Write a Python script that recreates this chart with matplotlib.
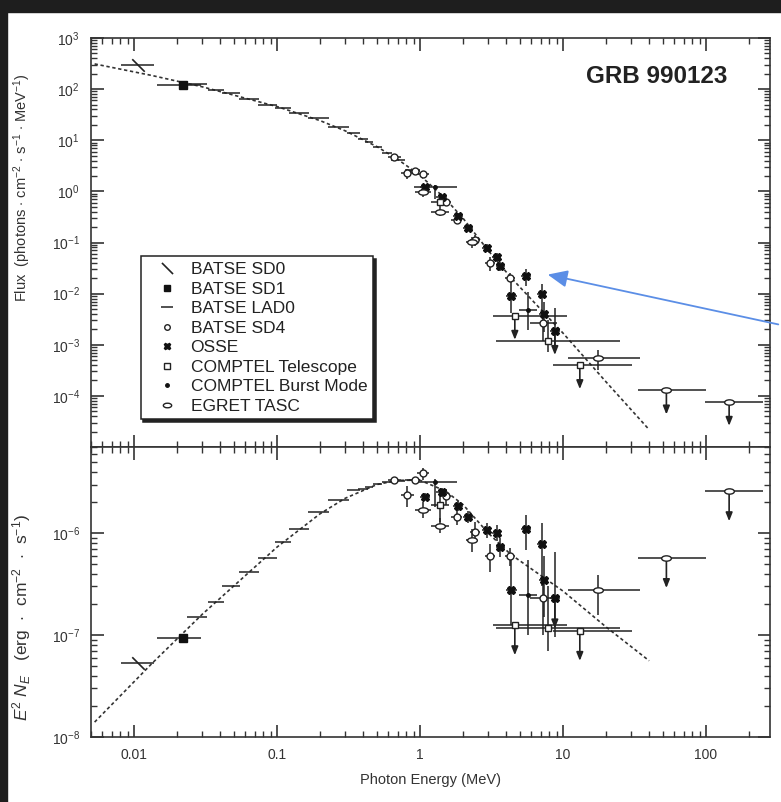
import matplotlib
matplotlib.use("Agg")
import matplotlib.pyplot as plt
import numpy as np
from matplotlib.path import Path
from matplotlib.transforms import offset_copy
from matplotlib.lines import Line2D
from matplotlib.patches import Rectangle, FancyArrowPatch
from matplotlib.ticker import LogLocator, NullFormatter, FuncFormatter

plt.rcParams.update({
    "font.family": ["Liberation Sans", "DejaVu Sans"],
    "font.size": 10,
    "mathtext.fontset": "custom",
    "mathtext.rm": "Liberation Sans",
    "mathtext.it": "Liberation Sans:italic",
    "axes.linewidth": 1.2,
    "axes.edgecolor": "#333333",
})

MEV_ERG = 1.602e-6   # MeV -> erg, flux panel = E^2 N_E / (E^2 * MEV_ERG)

# ---- dashed Band-model curve (E, E^2 N_E)
MODEL_E = [0.0053, 0.0134, 0.03, 0.1, 0.2, 0.3, 0.5, 0.7, 1.0, 1.5, 2.0, 3.0, 4.3, 10, 20, 40]
MODEL_NUFNU = [1.4e-8, 5.3e-8, 1.6e-7, 7.3e-7, 1.55e-6, 2.2e-6, 3.0e-6, 3.3e-6, 3.3e-6,
               2.6e-6, 1.9e-6, 1.0e-6, 6.2e-7, 2.7e-7, 1.2e-7, 5.6e-8]

# ---- data: energy (MeV), bin edges, E^2 N_E (erg cm^-2 s^-1), error range
SD0_E, SD0_ELO, SD0_EHI = [0.0106], [0.0081], [0.0139]
SD0_V, SD0_VLO, SD0_VHI = [5.3e-8], [5.3e-8], [5.3e-8]

SD1_E, SD1_ELO, SD1_EHI = [0.0219], [0.0145], [0.0294]
SD1_V, SD1_VLO, SD1_VHI = [9.4e-8], [9.4e-8], [9.4e-8]

LAD0_ELO = [0.0233, 0.0328, 0.0410, 0.0545, 0.0730, 0.0960, 0.121, 0.164, 0.226, 0.308,
            0.370, 0.415, 0.470, 0.540, 0.625, 0.79]
LAD0_EHI = [0.0324, 0.0424, 0.0553, 0.0743, 0.1000, 0.125, 0.166, 0.229, 0.316, 0.381,
            0.430, 0.470, 0.540, 0.640, 0.790, 1.00]
LAD0_V = [1.49e-7, 2.11e-7, 3.0e-7, 4.2e-7, 5.7e-7, 8.2e-7, 1.11e-6, 1.61e-6, 2.11e-6, 2.64e-6,
          2.7e-6, 2.85e-6, 3.05e-6, 3.15e-6, 3.25e-6, 3.3e-6]

SD4_E = [0.66, 0.81, 0.92, 1.05, 1.52, 1.80, 2.42, 3.08, 4.25, 7.26]
SD4_ELO = [0.60, 0.73, 0.84, 0.95, 1.40, 1.65, 2.25, 2.85, 3.90, 5.9]
SD4_EHI = [0.73, 0.90, 1.00, 1.16, 1.65, 1.95, 2.62, 3.35, 4.65, 9.0]
SD4_V = [3.3e-6, 2.36e-6, 3.35e-6, 3.85e-6, 2.3e-6, 1.43e-6, 1.03e-6, 5.95e-7, 5.95e-7, 2.29e-7]
SD4_VLO = [3.2e-6, 1.8e-6, 3.2e-6, 3.3e-6, 1.9e-6, 1.2e-6, 8.0e-7, 4.2e-7, 4.8e-7, 1.0e-7]
SD4_VHI = [3.4e-6, 2.9e-6, 3.5e-6, 4.4e-6, 2.7e-6, 1.7e-6, 1.3e-6, 7.8e-7, 7.2e-7, 3.5e-7]

OSSE_E = [1.08, 1.42, 1.85, 2.17, 2.92, 3.43, 3.62, 4.36, 5.5, 7.07, 7.33, 8.76]
OSSE_ELO = [1.0, 1.30, 1.70, 2.0, 2.7, 3.2, 3.4, 4.0, 5.1, 6.6, 6.8, 8.1]
OSSE_EHI = [1.17, 1.55, 2.0, 2.35, 3.15, 3.7, 3.9, 4.75, 5.95, 7.6, 7.9, 9.5]
OSSE_V = [2.27e-6, 2.54e-6, 1.84e-6, 1.43e-6, 1.07e-6, 1.0e-6, 7.3e-7, 2.76e-7, 1.09e-6,
          7.9e-7, 3.46e-7, 2.29e-7]
OSSE_VLO = [2.1e-6, 2.3e-6, 1.65e-6, 1.25e-6, 9.0e-7, 8.3e-7, 5.8e-7, 1.25e-7, 6.8e-7,
            3.0e-7, 1.5e-7, 9.6e-8]
OSSE_VHI = [2.45e-6, 2.8e-6, 2.05e-6, 1.65e-6, 1.25e-6, 1.2e-6, 8.9e-7, 6.0e-7, 1.5e-6,
            1.25e-6, 6.0e-7, 6.5e-7]
OSSE_UL = [False] * 11 + [True]

CT_E, CT_ELO, CT_EHI = [1.38, 4.6, 7.8, 13.1], [1.2, 3.25, 3.4, 8.5], [1.6, 10.6, 24.9, 30.2]
CT_V = [1.88e-6, 1.25e-7, 1.17e-7, 1.1e-7]
CT_VLO = [1.3e-6, 1.25e-7, 6.9e-8, 1.1e-7]
CT_VHI = [2.6e-6, 1.25e-7, 3.0e-7, 1.1e-7]
CT_UL = [False, True, False, True]

CB_E = [1.27, 5.7]
CB_ELO, CB_EHI = [0.9, 4.95], [1.8, 6.6]
CB_V = [3.2e-6, 2.5e-7]
CB_VLO, CB_VHI = [1.8e-6, 1.0e-7], [3.4e-6, 5.5e-7]

EG_E = [1.05, 1.38, 2.29, 17.5, 52.8, 145.0]
EG_ELO = [0.92, 1.2, 2.1, 10.8, 33.4, 98.4]
EG_EHI = [1.2, 1.6, 2.5, 34.3, 99.2, 250.0]
EG_V = [1.68e-6, 1.18e-6, 8.5e-7, 2.76e-7, 5.7e-7, 2.58e-6]
EG_VLO = [1.4e-6, 1.0e-6, 6.5e-7, 1.58e-7, 5.7e-7, 2.58e-6]
EG_VHI = [2.0e-6, 1.4e-6, 1.1e-6, 3.9e-7, 5.7e-7, 2.58e-6]
EG_UL = [False, False, False, False, True, True]

# custom marker shapes
BACKSLASH = Path([(-1, 1), (1, -1)], [Path.MOVETO, Path.LINETO])
_c = Path.unit_circle()
ELLIPSE = Path(_c.vertices * [1.0, 0.55], _c.codes)


def draw_set(ax, top, E, elo, ehi, v, vlo, vhi, ul=None, **kw):
    E, elo, ehi = np.asarray(E), np.asarray(elo), np.asarray(ehi)
    v, vlo, vhi = np.asarray(v), np.asarray(vlo), np.asarray(vhi)
    if top:
        conv = 1.0 / (E ** 2 * MEV_ERG)
        v, vlo, vhi = v * conv, vlo * conv, vhi * conv
    ax.errorbar(E, v, xerr=[E - elo, ehi - E], yerr=[v - vlo, vhi - v],
                fmt="none", ecolor="#222222", elinewidth=1.1, capsize=0, zorder=3)
    ax.plot(E, v, ls="none", zorder=4, **kw)
    if ul is not None:
        drop = -24 if top else -30
        tip = offset_copy(ax.transData, fig=ax.figure, x=0, y=drop, units="dots")
        for e, val, flag in zip(E, v, ul):
            if flag:
                ax.annotate("", xy=(e, val), xycoords=tip, xytext=(e, val), textcoords="data",
                            arrowprops=dict(arrowstyle="-|>,head_length=0.5,head_width=0.2",
                                            color="#222222", lw=1.2, shrinkA=0, shrinkB=0),
                            zorder=3)


def draw_panel(ax, top):
    mE = np.asarray(MODEL_E)
    mv = np.asarray(MODEL_NUFNU)
    ax.plot(mE, mv / (mE ** 2 * MEV_ERG) if top else mv, ls=(0, (2, 1.6)),
            color="#333333", lw=1.2, zorder=2)

    lad_e = np.sqrt(np.asarray(LAD0_ELO) * np.asarray(LAD0_EHI))
    draw_set(ax, top, lad_e, LAD0_ELO, LAD0_EHI, LAD0_V, LAD0_V, LAD0_V, marker="")
    draw_set(ax, top, SD0_E, SD0_ELO, SD0_EHI, SD0_V, SD0_VLO, SD0_VHI,
             marker=BACKSLASH, ms=9, mec="#222222", mew=1.2)
    draw_set(ax, top, SD1_E, SD1_ELO, SD1_EHI, SD1_V, SD1_VLO, SD1_VHI,
             marker="s", ms=5.5, color="#111111")
    draw_set(ax, top, SD4_E, SD4_ELO, SD4_EHI, SD4_V, SD4_VLO, SD4_VHI,
             marker="o", ms=5, mfc="white", mec="#222222", mew=1)
    draw_set(ax, top, OSSE_E, OSSE_ELO, OSSE_EHI, OSSE_V, OSSE_VLO, OSSE_VHI, OSSE_UL,
             marker="X", ms=6, color="#111111")
    draw_set(ax, top, CT_E, CT_ELO, CT_EHI, CT_V, CT_VLO, CT_VHI, CT_UL,
             marker="s", ms=5, mfc="white", mec="#222222", mew=1)
    draw_set(ax, top, CB_E, CB_ELO, CB_EHI, CB_V, CB_VLO, CB_VHI,
             marker="o", ms=2.5, color="#111111")
    draw_set(ax, top, EG_E, EG_ELO, EG_EHI, EG_V, EG_VLO, EG_VHI, EG_UL,
             marker=ELLIPSE, ms=7, mfc="white", mec="#222222", mew=1)

    ax.set_xscale("log")
    ax.set_yscale("log")
    ax.set_xlim(0.005, 280)
    ax.xaxis.set_major_locator(LogLocator(base=10, numticks=20))
    ax.xaxis.set_minor_locator(LogLocator(base=10, subs=np.arange(2, 10), numticks=20))
    ax.yaxis.set_major_locator(LogLocator(base=10, numticks=20))
    ax.yaxis.set_minor_locator(LogLocator(base=10, subs=np.arange(2, 10), numticks=20))
    ax.yaxis.set_minor_formatter(NullFormatter())
    ax.xaxis.set_minor_formatter(NullFormatter())
    ax.tick_params(which="both", direction="in", top=True, right=True, color="#333333")
    ax.tick_params(which="major", length=9, width=1.2, pad=8, labelsize=10, labelcolor="#333333")
    ax.tick_params(which="minor", length=4.5, width=1.0)


fig = plt.figure(figsize=(7.81, 8.02), dpi=100)
fig.patch.set_facecolor("white")
L, R = 91 / 781, 770 / 781
ax_top = fig.add_axes([L, 355 / 802, R - L, 409 / 802])
ax_bot = fig.add_axes([L, 65 / 802, R - L, 290 / 802], sharex=ax_top)

draw_panel(ax_top, True)
draw_panel(ax_bot, False)
ax_top.set_ylim(1e-5, 1e3)
ax_bot.set_ylim(1e-8, 7e-6)
ax_top.tick_params(axis="x", labelbottom=False)
ax_top.yaxis.set_major_formatter(FuncFormatter(
    lambda v, _: "" if v < 5e-5 else r"$10^{%d}$" % round(np.log10(v))))
ax_bot.yaxis.set_major_formatter(FuncFormatter(
    lambda v, _: r"$10^{%d}$" % round(np.log10(v))))
ax_bot.xaxis.set_major_formatter(FuncFormatter(lambda v, _: f"{v:g}"))
ax_bot.set_xlabel("Photon Energy (MeV)", fontsize=10.5, color="#333333", labelpad=8)

ax_top.text(0.9367, 0.905, "GRB 990123", transform=ax_top.transAxes, ha="right",
            va="center", fontsize=17.5, fontweight="bold", color="#222222")

fig.text(0.028, 1 - 188 / 802,
         r"Flux  (photons $\cdot$ cm$^{-2}$ $\cdot$ s$^{-1}$ $\cdot$ MeV$^{-1}$)",
         rotation=90, ha="center", va="center", fontsize=10.5, color="#333333")
fig.text(0.028, 1 - 617 / 802,
         r"$E^2\ N_E$   (erg  $\cdot$  cm$^{-2}$  $\cdot$  s$^{-1}$)",
         rotation=90, ha="center", va="center", fontsize=12.5, color="#333333")

# legend
handles = [
    Line2D([], [], ls="none", marker=BACKSLASH, ms=8, mec="#222222", mew=1.2),
    Line2D([], [], ls="none", marker="s", ms=5, color="#111111"),
    Line2D([], [], ls="none", marker="_", ms=8, mec="#222222", mew=1.1),
    Line2D([], [], ls="none", marker="o", ms=4, mfc="white", mec="#222222"),
    Line2D([], [], ls="none", marker="X", ms=5, color="#111111"),
    Line2D([], [], ls="none", marker="s", ms=5, mfc="white", mec="#222222"),
    Line2D([], [], ls="none", marker="o", ms=2.5, color="#111111"),
    Line2D([], [], ls="none", marker=ELLIPSE, ms=6, mfc="white", mec="#222222"),
]
labels = ["BATSE SD0", "BATSE SD1", "BATSE LAD0", "BATSE SD4", "OSSE",
          "COMPTEL Telescope", "COMPTEL Burst Mode", "EGRET TASC"]
leg = ax_top.legend(handles, labels, loc="upper left", bbox_to_anchor=(0.073, 0.466),
                    fontsize=12.5, frameon=True, fancybox=False, handlelength=2.4,
                    handletextpad=0.15, labelspacing=0.25, borderpad=0.33, borderaxespad=0,
                    shadow={"facecolor": "#222222", "edgecolor": "#222222", "alpha": 1})
leg.get_frame().set_edgecolor("#222222")
leg.get_frame().set_linewidth(1.1)
for t in leg.get_texts():
    t.set_color("#222222")

# dark scan border and the blue pointer arrow
fig.patches.append(Rectangle((0, 1 - 12 / 802), 1, 12 / 802, transform=fig.transFigure,
                             color="#1e1e1e", zorder=10))
fig.patches.append(Rectangle((0, 0), 7 / 781, 1, transform=fig.transFigure,
                             color="#1e1e1e", zorder=10))
fig.patches.append(FancyArrowPatch((1.0, 1 - 325 / 802), (545 / 781, 1 - 274 / 802),
                                   transform=fig.transFigure, color="#5b8ee6", lw=1.3,
                                   arrowstyle="-|>,head_length=8,head_width=3.5",
                                   mutation_scale=1.5, zorder=11))

fig.savefig("out.png", dpi=100)
